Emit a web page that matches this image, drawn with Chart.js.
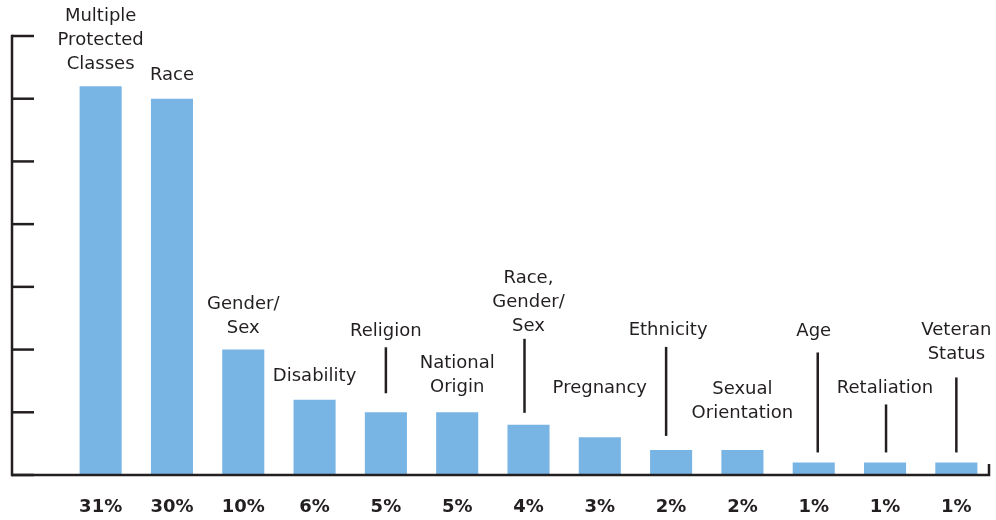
<!DOCTYPE html>
<html>
<head>
<meta charset="utf-8">
<script src="https://cdn.jsdelivr.net/npm/chart.js@4/dist/chart.umd.min.js"></script>
<style>
  html, body { margin: 0; padding: 0; background: #ffffff; }
  #wrap { position: relative; width: 996px; height: 520px; }
</style>
</head>
<body>
<div id="wrap"><canvas id="chart"></canvas></div>
<script>
// Share of complaints by protected class (percent)
const categories = [
  ['Multiple', 'Protected', 'Classes'],
  ['Race'],
  ['Gender/', 'Sex'],
  ['Disability'],
  ['Religion'],
  ['National', 'Origin'],
  ['Race,', 'Gender/', 'Sex'],
  ['Pregnancy'],
  ['Ethnicity'],
  ['Sexual', 'Orientation'],
  ['Age'],
  ['Retaliation'],
  ['Veteran', 'Status']
];
const shares = [31, 30, 10, 6, 5, 5, 4, 3, 2, 2, 1, 1, 1];
const shareLabels = ['31%', '30%', '10%', '6%', '5%', '5%', '4%', '3%', '2%', '2%', '1%', '1%', '1%'];
const yTicks = [0, 5, 10, 15, 20, 25, 30, 35];

// Label placement: distance (px) from bar top to the centre of the last text line,
// optional leader line [top, bottom] measured upward from the bar top, text/leader x shifts.
const labelLayout = [
  { lift: 22 },
  { lift: 23 },
  { lift: 21 },
  { lift: 23 },
  { lift: 81, leader: [65, 19] },
  { lift: 25 },
  { lift: 99, leader: [86, 12], dx: -4 },
  { lift: 49 },
  { lift: 120, leader: [103, 14], dx: -5, tx: -3 },
  { lift: 37 },
  { lift: 131, leader: [110, 10], dx: 4 },
  { lift: 74, leader: [58, 10], dx: 1 },
  { lift: 108, leader: [85, 10] }
];

const INK = '#231f20';
const FONT = '"DejaVu Sans", "Open Sans", sans-serif';

const axesAndLabels = {
  id: 'axesAndLabels',
  afterDatasetsDraw(chart) {
    const ctx = chart.ctx;
    const y = chart.scales.y;
    const meta = chart.getDatasetMeta(0);
    const axisX = 12;
    const y0 = y.getPixelForValue(0);
    const yTop = y.getPixelForValue(yTicks[yTicks.length - 1]);

    ctx.save();
    ctx.strokeStyle = INK;
    ctx.lineWidth = 2.5;
    ctx.lineCap = 'butt';
    // vertical axis
    ctx.beginPath();
    ctx.moveTo(axisX, yTop - 1.25);
    ctx.lineTo(axisX, y0 + 1.25);
    ctx.stroke();
    // tick marks
    yTicks.forEach(v => {
      const py = y.getPixelForValue(v);
      ctx.beginPath();
      ctx.moveTo(axisX, py);
      ctx.lineTo(axisX + 22, py);
      ctx.stroke();
    });
    // baseline with end tick
    ctx.beginPath();
    ctx.moveTo(axisX, y0);
    ctx.lineTo(989, y0);
    ctx.lineTo(989, y0 - 11);
    ctx.stroke();

    // category labels above the bars
    ctx.fillStyle = INK;
    ctx.textAlign = 'center';
    ctx.textBaseline = 'middle';
    ctx.font = '18px ' + FONT;
    meta.data.forEach((bar, i) => {
      const lay = labelLayout[i];
      const lines = categories[i];
      const top = bar.y;
      const lastY = top - lay.lift;
      const cx = bar.x + (lay.tx || 0);
      lines.forEach((ln, k) => {
        ctx.fillText(ln, cx, lastY - (lines.length - 1 - k) * 24);
      });
      if (lay.leader) {
        const lx = bar.x + (lay.dx || 0);
        ctx.beginPath();
        ctx.lineWidth = 2.5;
        ctx.moveTo(lx, top - lay.leader[0]);
        ctx.lineTo(lx, top - lay.leader[1]);
        ctx.stroke();
      }
    });

    // percentage labels under the axis
    ctx.font = 'bold 18px ' + FONT;
    meta.data.forEach((bar, i) => {
      ctx.fillText(shareLabels[i], bar.x, 507);
    });
    ctx.restore();
  }
};

new Chart(document.getElementById('chart'), {
  type: 'bar',
  data: {
    labels: categories.map(c => c.join(' ')),
    datasets: [{
      data: shares,
      backgroundColor: '#78b4e4',
      borderWidth: 0,
      categoryPercentage: 1,
      barPercentage: 0.59
    }]
  },
  options: {
    responsive: true,
    maintainAspectRatio: false,
    animation: false,
    layout: { padding: { left: 65, right: 4, top: 36, bottom: 45 } },
    plugins: { legend: { display: false }, tooltip: { enabled: false } },
    scales: {
      x: { display: false, offset: true },
      y: { display: false, min: 0, max: 35 }
    }
  },
  plugins: [axesAndLabels]
});
</script>
</body>
</html>
